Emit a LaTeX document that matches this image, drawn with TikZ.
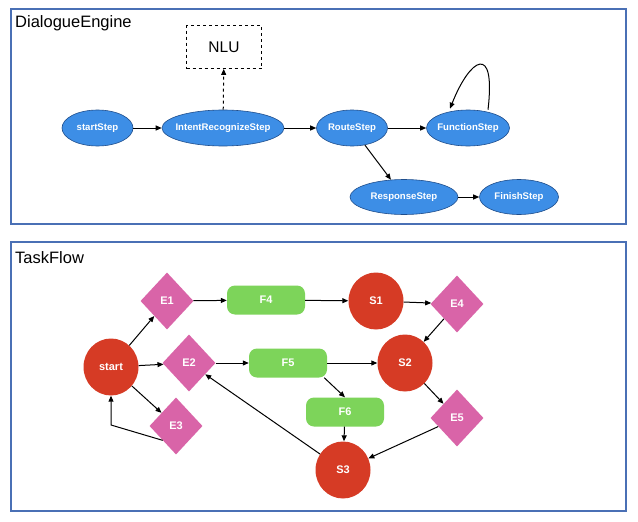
\documentclass[tikz,border=0pt]{standalone}
\usepackage{fontspec}
\setmainfont{Liberation Sans}
\usetikzlibrary{shapes.geometric,arrows.meta}
\definecolor{stepblue}{HTML}{3D8EE6}
\definecolor{stepedge}{HTML}{1F4E8C}
\definecolor{framecol}{HTML}{4A70B5}
\definecolor{statered}{HTML}{D63B25}
\definecolor{evpink}{HTML}{D964A8}
\definecolor{fngreen}{HTML}{7DD45A}
\begin{document}
\begin{tikzpicture}[x=1pt,y=-1pt,
  panel/.style={draw=framecol, line width=1.8pt},
  paneltitle/.style={anchor=west, inner sep=0pt, font=\fontsize{16.5}{18}\selectfont},
  stepnode/.style={ellipse, fill=stepblue, draw=stepedge, line width=0.6pt, minimum height=36pt, inner ysep=0pt, inner xsep=-14pt, text=white, font=\fontsize{9.6}{11}\selectfont\bfseries},
  nlubox/.style={draw, dashed, line width=0.9pt, minimum width=75pt, minimum height=43pt, font=\fontsize{15.5}{17}\selectfont},
  statenode/.style={ellipse, fill=statered, minimum width=55pt, minimum height=57pt, inner sep=0pt, text=white, font=\fontsize{11}{13}\selectfont\bfseries},
  evnode/.style={diamond, fill=evpink, minimum width=53pt, minimum height=57pt, inner sep=0pt, text=white, font=\fontsize{11}{13}\selectfont\bfseries},
  fnnode/.style={rectangle, rounded corners=8pt, fill=fngreen, minimum width=78pt, minimum height=29pt, inner sep=0pt, text=white, font=\fontsize{11}{13}\selectfont\bfseries},
  arr/.style={-{Triangle[length=6pt,width=5pt]}, line width=1pt},
  darr/.style={arr, dashed}
]
\useasboundingbox (0,0) rectangle (638,522);
\fill[white] (0,0) rectangle (638,522);

% ---------- DialogueEngine panel ----------
\draw[panel] (11,9) rectangle (626,224);
\node[paneltitle] (t1) at (15,23) {DialogueEngine};
\node[nlubox] (nlu) at (224,47) {NLU};

\node[stepnode, minimum width=71pt] (startStep) at (97.5,128) {startStep};
\node[stepnode, minimum width=122pt] (irs) at (223,128) {IntentRecognizeStep};
\node[stepnode, minimum width=71pt] (route) at (352,128) {RouteStep};
\node[stepnode, minimum width=83pt] (func) at (468,128) {FunctionStep};
\node[stepnode, minimum width=108pt, minimum height=35pt] (resp) at (404,197) {ResponseStep};
\node[stepnode, minimum width=79pt, minimum height=35pt] (fin) at (519,197) {FinishStep};

\draw[arr] (startStep) -- (irs);
\draw[arr] (irs) -- (route);
\draw[arr] (route) -- (func);
\draw[arr] (route) -- (resp);
\draw[arr] (resp) -- (fin);
\draw[darr] (irs) -- (nlu);
\draw[arr] ([xshift=20pt]func.north) .. controls (496,42) and (470,58) .. ([xshift=-18pt,yshift=1pt]func.north);

% ---------- TaskFlow panel ----------
\draw[panel] (11,242) rectangle (626,511);
\node[paneltitle] (t2) at (15,258) {TaskFlow};

\node[statenode] (start) at (111,367) {start};
\node[evnode] (E1) at (167,301) {E1};
\node[evnode] (E2) at (189,363) {E2};
\node[evnode] (E3) at (176,426) {E3};
\node[fnnode] (F4) at (266,300) {F4};
\node[fnnode] (F5) at (288,363) {F5};
\node[fnnode] (F6) at (345,412) {F6};
\node[statenode] (S1) at (376,301) {S1};
\node[statenode] (S2) at (405,363) {S2};
\node[statenode] (S3) at (343,470) {S3};
\node[evnode] (E4) at (457,304) {E4};
\node[evnode] (E5) at (457,418) {E5};
\coordinate (c3) at (111,425);

\draw[arr] (start) -- (E1);
\draw[arr] (start) -- (E2);
\draw[arr] (start) -- (E3);
\draw[arr] (E3.south west) -- (c3) -- (start);
\draw[arr] (E1) -- (F4);
\draw[arr] (F4) -- (S1);
\draw[arr] (S1) -- (E4);
\draw[arr] (E4) -- (S2);
\draw[arr] (E2) -- (F5);
\draw[arr] (F5) -- (S2);
\draw[arr] ([xshift=-3pt]F5.south east) -- (F6.north);
\draw[arr] (F6) -- (S3);
\draw[arr] (S2) -- (E5);
\draw[arr] (E5) -- (S3);
\draw[arr] (S3) -- (E2);
\end{tikzpicture}
\end{document}
